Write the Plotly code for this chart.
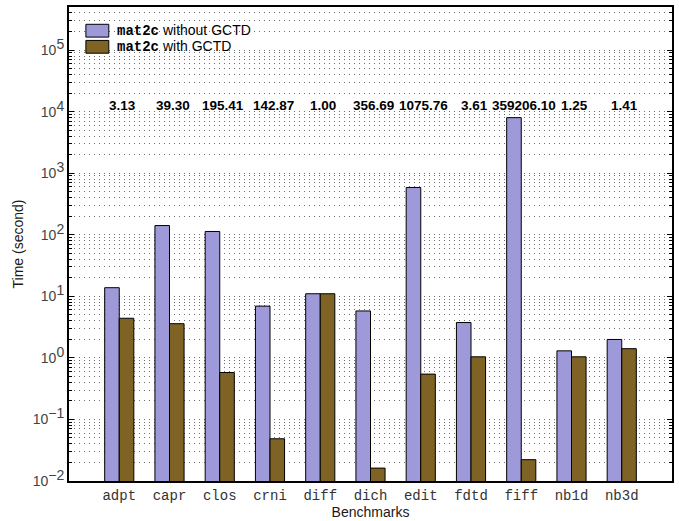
import math
import plotly.graph_objects as go

# Benchmark run times (seconds) for mat2c with and without GCTD
benchmarks = ["adpt", "capr", "clos", "crni", "diff", "dich",
              "edit", "fdtd", "fiff", "nb1d", "nb3d"]
time_without_gctd = [13.8, 141.0, 113.0, 6.93, 11.0, 5.78,
                     586.0, 3.75, 7975.0, 1.30, 1.99]
time_with_gctd = [4.40, 3.59, 0.578, 0.0485, 11.0, 0.0162,
                  0.545, 1.04, 0.0222, 1.04, 1.41]
speedup_labels = ["3.13", "39.30", "195.41", "142.87", "1.00", "356.69",
                  "1075.76", "3.61", "359206.10", "1.25", "1.41"]

# y-axis decades shown as powers of ten
decades = list(range(-2, 6))
decade_labels = [
    "10<sup><span style='font-size:14px'>%s</span></sup>"
    % (str(d) if d >= 0 else "\u2212" + str(-d))
    for d in decades
]

PURPLE = "#9E99D8"
BROWN = "#7F6324"
GRID = "#6e6e6e"
DOTS = "1px,4px"

fig = go.Figure()
fig.add_trace(go.Bar(
    x=benchmarks, y=time_without_gctd, name="mat2c without GCTD",
    marker=dict(color=PURPLE, line=dict(color="black", width=1)),
    showlegend=False,
))
fig.add_trace(go.Bar(
    x=benchmarks, y=time_with_gctd, name="mat2c with GCTD",
    marker=dict(color=BROWN, line=dict(color="black", width=1)),
    showlegend=False,
))

# speedup ratios printed in a row above the bars
for name, label in zip(benchmarks, speedup_labels):
    fig.add_annotation(
        x=name, y=0.812, xref="x", yref="paper", text="<b>%s</b>" % label,
        showarrow=False, xshift=3,
        font=dict(family="Liberation Sans, Arial", size=13.5, color="black"),
    )

# hand-drawn legend with wide colour swatches
legend_rows = [(PURPLE, "without GCTD", 0.950), (BROWN, "with GCTD", 0.916)]
for color, suffix, yc in legend_rows:
    fig.add_shape(
        type="rect", xref="paper", yref="paper",
        x0=0.028, x1=0.066, y0=yc - 0.0135, y1=yc + 0.0135,
        fillcolor=color, line=dict(color="black", width=1),
    )
    fig.add_annotation(
        x=0.076, y=yc, xref="paper", yref="paper", xanchor="left",
        yanchor="middle", showarrow=False,
        text=('<span style="font-family:\'Liberation Mono\', \'Courier New\', monospace;'
              'font-weight:bold">mat2c</span> ' + suffix),
        font=dict(family="Liberation Sans, Arial", size=14, color="black"),
    )

fig.update_layout(
    width=679, height=521,
    margin=dict(l=69, r=6, t=5, b=38),
    paper_bgcolor="white", plot_bgcolor="white",
    barmode="group", bargap=0.42, bargroupgap=0.0,
    font=dict(family="Liberation Sans, Arial", size=13, color="#262626"),
)

fig.update_xaxes(
    type="category", range=[-1, 11],
    showline=True, linecolor="black", linewidth=2, mirror=True,
    ticks="", showgrid=False,
    tickfont=dict(family="Liberation Mono, Courier New, monospace", size=14,
                  color="#333333"),
    title=dict(text="Benchmarks", standoff=2,
               font=dict(family="Liberation Sans, Arial", size=14,
                         color="#1a1a1a")),
)

fig.update_yaxes(
    type="log", range=[-2, math.log10(5e5)],
    tickvals=[10 ** d for d in decades], ticktext=decade_labels,
    ticks="inside", ticklen=5, tickcolor="black",
    showline=True, linecolor="black", linewidth=2, mirror="allticks",
    showgrid=True, gridcolor=GRID, griddash=DOTS, gridwidth=1,
    minor=dict(dtick="D1", showgrid=True, gridcolor=GRID, griddash=DOTS,
               gridwidth=1, ticks="inside", ticklen=3, tickcolor="black"),
    tickfont=dict(family="Liberation Sans, Arial", size=14, color="#444444"),
    title=dict(text="Time (second)", standoff=6,
               font=dict(family="Liberation Sans, Arial", size=14,
                         color="#1a1a1a")),
    zeroline=False,
)

fig.write_html("out.html")
